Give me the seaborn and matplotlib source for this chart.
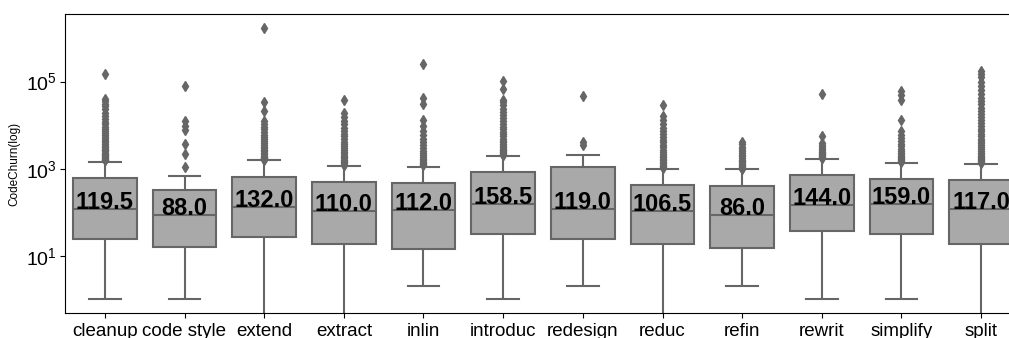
import matplotlib
matplotlib.use("Agg")
import matplotlib.pyplot as plt
import matplotlib.ticker as mticker
import numpy as np
import pandas as pd
import seaborn as sns

plt.rcParams['font.family'] = ['Liberation Sans', 'DejaVu Sans']

categories = ["cleanup", "code style", "extend", "extract", "inlin", "introduc",
              "redesign", "reduc", "refin", "rewrit", "simplify", "split"]

# box summary values
whisker_low = [1, 1, 0, 0, 2, 1, 2, 0, 2, 1, 1, 0]
q1_values = [24.2, 16.4, 27.3, 18.6, 14.7, 31.5, 24.6, 18.6, 15.5, 37.0, 32.1, 18.6]
medians = [119.5, 88.0, 132.0, 110.0, 112.0, 158.5, 119.0, 106.5, 86.0, 144.0, 159.0, 117.0]
q3_values = [611, 324, 645, 484, 469, 822, 1072, 422, 407, 716, 589, 538]
whisker_high = [1449, 679, 1553, 1153, 1100, 1919, 2023, 984, 964, 1698, 1374, 1303]

outliers = {
    "cleanup": [1550, 1600, 1680, 1750, 1850, 1950, 2050, 2200, 2350, 2500, 2700, 2900,
                3100, 3400, 3700, 4000, 4400, 4800, 5300, 5900, 6500, 7300, 8200, 9300,
                10500, 12000, 14000, 16500, 19500, 23000, 27000, 31000, 36000, 40700, 151000],
    "code style": [1070, 2180, 3700, 7880, 9800, 12200, 78000],
    "extend": [1600, 1650, 1720, 1800, 1900, 2000, 2150, 2300, 2500, 2700, 2950, 3200,
               3500, 3850, 4300, 4800, 5400, 6100, 7000, 8000, 9300, 10700, 12200,
               20700, 33400, 1710000],
    "extract": [1200, 1250, 1320, 1400, 1500, 1600, 1720, 1850, 2000, 2200, 2400, 2650,
                2950, 3300, 3700, 4200, 4800, 5500, 6400, 7500, 8800, 10500, 12500,
                15500, 19400, 38500],
    "inlin": [1200, 1260, 1350, 1450, 1570, 1700, 1850, 2050, 2300, 2600, 3000, 3500,
              4100, 4900, 5900, 7200, 9370, 13400, 31200, 42200, 259000],
    "introduc": [2050, 2120, 2200, 2300, 2420, 2550, 2700, 2900, 3100, 3350, 3650, 4000,
                 4400, 4900, 5500, 6200, 7000, 8000, 9200, 10600, 12300, 14500, 17000,
                 20000, 24000, 29000, 34000, 38500, 67900, 101600],
    "redesign": [3440, 4110, 45900],
    "reduc": [1050, 1100, 1170, 1250, 1340, 1440, 1550, 1680, 1830, 2000, 2200, 2450,
              2750, 3100, 3500, 4000, 4600, 5300, 6200, 7300, 8700, 10500, 12800,
              15900, 29100],
    "refin": [1000, 1040, 1090, 1150, 1220, 1300, 1390, 1500, 1620, 1760, 1920, 2100,
              2300, 2550, 2850, 3200, 3600, 4030],
    "rewrit": [1750, 1800, 1870, 1950, 2050, 2170, 2300, 2450, 2650, 2900, 3200, 3500,
               3900, 5740, 52100],
    "simplify": [1450, 1500, 1570, 1650, 1750, 1870, 2000, 2150, 2350, 2600, 2900, 3250,
                 3700, 4300, 5000, 6000, 7210, 12900, 38500, 48000, 59800],
    "split": [1350, 1400, 1470, 1550, 1650, 1750, 1870, 2000, 2150, 2330, 2550, 2800,
              3100, 3450, 3850, 4300, 4850, 5500, 6300, 7200, 8300, 9600, 11200, 13000,
              15200, 17800, 21000, 25000, 30000, 36000, 43000, 52000, 63000, 77800,
              100000, 125000, 150000, 172600],
}

# rebuild raw samples whose boxplot statistics equal the values above
rows = []
for i, cat in enumerate(categories):
    outs = outliers[cat]
    m = len(outs) + 2
    vals = ([whisker_low[i]] + [q1_values[i]] * m + [medians[i]] * m +
            [q3_values[i]] * m + [whisker_high[i]] + outs)
    rows += [(cat, v) for v in vals]
df = pd.DataFrame(rows, columns=["category", "CodeChurn"])

line_grey = "#666666"

fig = plt.figure(figsize=(10.09, 3.38), dpi=100)
ax = fig.add_axes([65 / 1009, 1 - 313 / 338, (1021 - 65) / 1009, (313 - 14) / 338])

sns.boxplot(data=df, x="category", y="CodeChurn", order=categories, ax=ax,
            color="darkgray", saturation=1, linecolor=line_grey, linewidth=1.5,
            width=0.8, fliersize=5.5,
            flierprops={"marker": "d", "markerfacecolor": line_grey,
                        "markeredgecolor": line_grey})

ax.set_yscale("log")
ax.set_ylim(10 ** -0.31, 10 ** 6.55)
ax.set_xlim(-0.5, 11.5)
ax.set_yticks([10, 1e3, 1e5])
ax.yaxis.set_minor_locator(mticker.NullLocator())

med = df.groupby("category")["CodeChurn"].median()
for i, cat in enumerate(categories):
    ax.text(i, med[cat], f"{med[cat]:.1f}", ha="center", va="baseline",
            fontsize=17, fontweight="bold", color="black")

ax.set_xlabel("")
ax.set_ylabel("CodeChurn(log)", fontsize=8.5)
ax.tick_params(axis="x", labelsize=13.5)
ax.tick_params(axis="y", labelsize=14, pad=2.5)

fig.savefig("out.png", dpi=100)
